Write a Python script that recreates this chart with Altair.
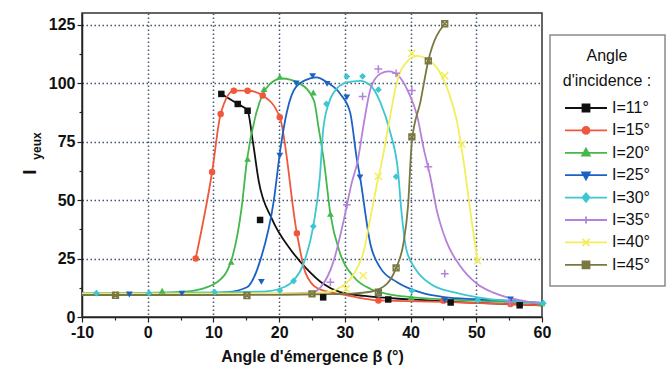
import altair as alt
import pandas as pd

FONT = "Liberation Sans"

series_names = ["I=11°", "I=15°", "I=20°", "I=25°", "I=30°", "I=35°", "I=40°", "I=45°"]
series_colors = ["#111111", "#f0573c", "#44b84a", "#1c62c4", "#3ec6d2", "#b482d8", "#f2ee5c", "#7a7842"]

# ---- measured points (markers) ----
m11_x = [11.2, 13.7, 15.2, 17.1, 26.7, 36.6, 46.1, 56.6]
m11_y = [95.4, 91.1, 88.2, 41.5, 8.4, 7.5, 6.2, 5.0]
m15_x = [7.3, 9.8, 11.1, 13.1, 15.2, 17.5, 20.1, 22.7, 35.1, 45.0, 55.2]
m15_y = [25.0, 62.0, 86.8, 96.8, 96.8, 94.7, 85.4, 35.8, 7.1, 7.0, 5.6]
m20_x = [2.2, 12.7, 15.2, 17.7, 20.1, 25.2, 27.8, 40.1, 60.0]
m20_y = [11.2, 23.6, 67.6, 97.5, 102.8, 96.0, 44.1, 8.5, 5.8]
m25_x = [-2.8, 5.2, 17.3, 20.1, 22.6, 25.1, 27.3, 30.3, 32.3, 35.1, 45.2, 55.2]
m25_y = [9.6, 10.0, 15.0, 69.0, 99.9, 103.0, 99.7, 93.9, 59.7, 10.6, 7.1, 7.5]
m30_x = [-7.8, 0.2, 10.2, 20.1, 22.2, 25.2, 27.2, 30.3, 32.7, 35.1, 37.8, 40.2, 50.2, 60.2]
m30_y = [10.2, 10.2, 10.6, 11.3, 15.4, 38.8, 91.1, 102.8, 102.9, 97.2, 60.0, 11.3, 7.1, 5.9]
m35_x = [27.8, 30.3, 32.7, 35.1, 37.8, 40.2, 42.7, 45.2, 55.1]
m35_y = [14.9, 48.0, 94.3, 106.0, 104.2, 96.9, 64.2, 18.5, 6.3]
m40_x = [30.2, 32.8, 35.1, 40.2, 45.2, 47.8, 50.2]
m40_y = [12.0, 17.7, 60.2, 112.8, 103.2, 74.0, 24.1]
m45_x = [-4.9, 15.1, 25.0, 35.1, 37.8, 40.2, 42.7, 45.2]
m45_y = [9.3, 9.2, 9.9, 10.6, 21.0, 77.0, 109.5, 125.4]

# ---- fitted curves ----
c11_x = [11.2, 13.7, 15.2, 16.0, 16.9, 18.9, 21.7, 24.2, 26.7, 29.3, 33.0, 40.0, 50.0, 60.0]
c11_y = [95.4, 91.1, 88.2, 75.0, 58.0, 42.0, 29.0, 20.6, 14.2, 10.6, 9.0, 7.5, 6.0, 5.0]
c15_x = [7.3, 9.8, 11.1, 13.1, 15.2, 17.5, 20.1, 22.7, 24.0, 26.0, 30.0, 35.1, 45.0, 60.0]
c15_y = [25.0, 62.0, 86.8, 96.8, 96.8, 94.7, 85.4, 35.8, 19.0, 12.0, 9.5, 7.1, 6.5, 5.0]
c20_x = [-10, 0, 5, 7, 10.6, 12.7, 14.3, 15.1, 16.6, 18.6, 20.4, 23.2, 25.3, 26.0, 26.8,
         27.8, 29.3, 31.4, 33.9, 36.4, 40, 50, 60]
c20_y = [10.0, 10.3, 10.7, 11.3, 15.0, 24.0, 47.0, 67.0, 88.0, 99.7, 102.0, 99.7, 92.5, 81.0, 67.0,
         44.0, 27.0, 17.0, 12.0, 9.9, 8.5, 7.0, 5.8]
c25_x = [-10, 5, 12.1, 15.1, 17.1, 19.2, 20.2, 21.2, 22.6, 24.7, 25.7, 27.3, 29.3, 30.8, 31.8,
         32.3, 33.9, 35.4, 37.9, 41.4, 45.1, 50, 55, 60]
c25_y = [9.6, 9.8, 10.6, 12.7, 24.0, 50.0, 72.0, 88.0, 98.5, 102.0, 102.5, 100.3, 95.4, 87.5, 68.0,
         60.0, 31.0, 21.0, 15.0, 10.6, 8.5, 7.6, 7.0, 6.0]
c30_x = [-10, 10, 18, 20.7, 22.2, 23.7, 25.2, 26.2, 26.7, 27.5, 28.3, 30.3, 32.3, 33.9, 35.4,
         36.9, 38.1, 38.6, 39.4, 40.9, 43.0, 46.5, 50, 60]
c30_y = [10.2, 10.5, 11.0, 12.7, 15.6, 22.7, 39.0, 60.0, 80.0, 91.0, 96.0, 100.3, 101.0, 99.0, 91.8,
         79.0, 62.0, 45.5, 28.4, 19.9, 14.2, 10.6, 8.5, 6.0]
c35_x = [-10, 20, 25, 26.3, 28.3, 29.8, 31.1, 31.9, 32.9, 33.9, 35.4, 36.7, 38.2, 39.7, 41.0,
         42.0, 43.0, 44.0, 45.5, 47.5, 50.1, 52.5, 54.6, 57, 60]
c35_y = [10.0, 10.0, 10.5, 12.7, 24.0, 41.0, 58.0, 66.0, 83.0, 97.5, 104.0, 105.0, 103.0, 96.0, 86.0,
         72.0, 60.0, 45.5, 32.0, 22.0, 14.2, 10.5, 8.5, 7.0, 5.5]
c40_x = [-10, 20, 27, 29.3, 31.4, 32.9, 33.9, 34.9, 35.6, 36.9, 37.9, 39.4, 41.0, 42.5, 44.3,
         45.8, 47.1, 48.1, 49.3, 50.2]
c40_y = [10.0, 10.0, 10.5, 12.7, 18.5, 28.4, 42.6, 57.0, 66.0, 86.0, 100.3, 109.0, 111.7, 110.3, 105.3,
         96.0, 83.0, 66.0, 41.0, 24.0]
c45_x = [-10, 10, 20, 28, 31, 33.9, 36.4, 37.8, 38.9, 39.6, 40.2, 41.5, 42.7, 45.2]
c45_y = [9.4, 9.4, 9.5, 9.8, 10.0, 10.8, 14.2, 21.0, 31.3, 47.0, 75.0, 92.0, 109.6, 125.4]

# ---- axis ticks ----
x_ticks = [-10, -5, 0, 5, 10, 15, 20, 25, 30, 35, 40, 45, 50, 55, 60]
y_ticks = [0, 12.5, 25, 37.5, 50, 62.5, 75, 87.5, 100, 112.5, 125]

PLUS = "M-1,0H1M0,-1V1"
XMARK = "M-1,-1L1,1M-1,1L1,-1"
BOXX = "M-1,-1L1,1M-1,1L1,-1M-1,-1H1V1H-1Z"
point_shapes = ["square", "circle", "triangle-up", "triangle-down", "diamond", PLUS, XMARK, BOXX]
point_filled = [True, True, True, True, True, False, False, False]
point_sizes = [42, 42, 46, 46, 46, 60, 50, 34]

# legend symbols: a line with the marker in its middle (units of 3.5 px)
LINE = "M-2.286,0H9.714"
legend_paths = [
    LINE + "M2.714,-1H4.714V1H2.714Z",
    LINE + "M4.714,0A1,1,0,1,1,2.714,0A1,1,0,1,1,4.714,0Z",
    LINE + "M3.714,-1.2L4.814,0.8H2.614Z",
    LINE + "M3.714,1.2L4.814,-0.8H2.614Z",
    LINE + "M3.714,-1.2L4.714,0L3.714,1.2L2.714,0Z",
    LINE + "M3.714,-1V1",
    LINE + "M2.714,-1L4.714,1M2.714,1L4.714,-1",
    LINE + "M2.714,-1L4.714,1M2.714,1L4.714,-1M2.714,-1H4.714V1H2.714Z",
]

markers = [(m11_x, m11_y), (m15_x, m15_y), (m20_x, m20_y), (m25_x, m25_y),
           (m30_x, m30_y), (m35_x, m35_y), (m40_x, m40_y), (m45_x, m45_y)]
curves = [(c11_x, c11_y), (c15_x, c15_y), (c20_x, c20_y), (c25_x, c25_y),
          (c30_x, c30_y), (c35_x, c35_y), (c40_x, c40_y), (c45_x, c45_y)]

xscale = alt.Scale(domain=[-10, 60], nice=False, zero=False)
yscale = alt.Scale(domain=[0, 130], nice=False)

xaxis = alt.Axis(
    values=x_ticks,
    labelExpr="datum.value % 10 === 0 ? '' + datum.value : ''",
    title="Angle d'émergence β (°)",
    grid=True,
    gridOpacity={"condition": {"test": "datum.value % 10 !== 0 || datum.value <= -10 || datum.value >= 60", "value": 0}, "value": 1},
    tickSize={"condition": {"test": "datum.value % 10 !== 0", "value": 3}, "value": 5},
    labelFlush=False,
    labelOverlap=False,
    labelPadding=2,
    titlePadding=8,
)
yaxis = alt.Axis(
    values=y_ticks,
    labelExpr="datum.value % 25 === 0 ? '' + datum.value : ''",
    title=None,
    grid=True,
    gridOpacity={"condition": {"test": "datum.value % 25 !== 0 || datum.value === 0", "value": 0}, "value": 1},
    tickSize={"condition": {"test": "datum.value % 25 !== 0", "value": 3}, "value": 5},
    labelOverlap=False,
    labelPadding=2,
)

xenc = alt.X("x:Q", scale=xscale, axis=xaxis)
yenc = alt.Y("y:Q", scale=yscale, axis=yaxis)

line_layers = []
point_layers = []
for i, name in enumerate(series_names):
    cx, cy = curves[i]
    mx, my = markers[i]
    cdf = pd.DataFrame({"x": cx, "y": cy})
    mdf = pd.DataFrame({"x": mx, "y": my})
    line_layers.append(
        alt.Chart(cdf).mark_line(color=series_colors[i], strokeWidth=1.8, interpolate="monotone")
        .encode(x=xenc, y=yenc)
    )
    point_layers.append(
        alt.Chart(mdf).mark_point(shape=point_shapes[i], filled=point_filled[i], color=series_colors[i],
                                  size=point_sizes[i], opacity=1, strokeWidth=1.5)
        .encode(x=xenc, y=yenc)
    )

leg_props = dict(
    title=["Angle", "d'incidence :"],
    orient="none", legendX=468, legendY=22,
    padding=13,
    strokeColor="#8a8a8a", fillColor="white",
    titleFont=FONT, titleFontSize=16, titleFontWeight="normal", titleColor="#111",
    titleAnchor="middle", titleAlign="center", titleLineHeight=25, titlePadding=11,
    labelFont=FONT, labelFontSize=16, labelColor="#111",
    symbolOpacity=1, symbolSize=49, symbolStrokeWidth=1.8,
    symbolOffset=0, labelOffset=31, rowPadding=6.4,
)
legend_df = pd.DataFrame({"s": series_names})
legend_layer = alt.Chart(legend_df).mark_point(filled=True, opacity=0, size=49).encode(
    fill=alt.Fill("s:N", scale=alt.Scale(domain=series_names, range=series_colors), legend=alt.Legend(**leg_props)),
    stroke=alt.Stroke("s:N", scale=alt.Scale(domain=series_names, range=series_colors), legend=alt.Legend(**leg_props)),
    shape=alt.Shape("s:N", scale=alt.Scale(domain=series_names, range=legend_paths), legend=alt.Legend(**leg_props)),
)

ytitle_main = alt.Chart(pd.DataFrame({"t": ["I"]})).mark_text(
    angle=270, font=FONT, fontSize=19, fontWeight="bold", color="#111", align="center", baseline="middle"
).encode(x=alt.value(-52), y=alt.value(159), text="t:N")
ytitle_sub = alt.Chart(pd.DataFrame({"t": ["yeux"]})).mark_text(
    angle=270, font=FONT, fontSize=12, fontWeight="bold", color="#111", align="center", baseline="middle"
).encode(x=alt.value(-45), y=alt.value(133), text="t:N")

chart = alt.layer(*line_layers, *point_layers, legend_layer, ytitle_main, ytitle_sub).properties(
    width=460, height=304,
    autosize=alt.AutoSizeParams(type="none"),
    padding={"left": 82, "top": 13, "right": 129, "bottom": 57},
).configure_view(
    stroke="#333333", strokeWidth=1.5
).configure_axis(
    domainColor="#222222", domainWidth=1.5, tickColor="#222222", tickWidth=1.2,
    labelFont=FONT, labelFontSize=16, labelFontWeight="bold", labelColor="#111111",
    titleFont=FONT, titleFontSize=16, titleFontWeight="bold", titleColor="#111111",
    gridColor="#3f5570", gridDash=[1.5, 2.5], gridWidth=1.5,
).configure_legend(
    strokeWidth=1.5
)

chart.save("out.html", embed_options={"renderer": "svg", "actions": False})
